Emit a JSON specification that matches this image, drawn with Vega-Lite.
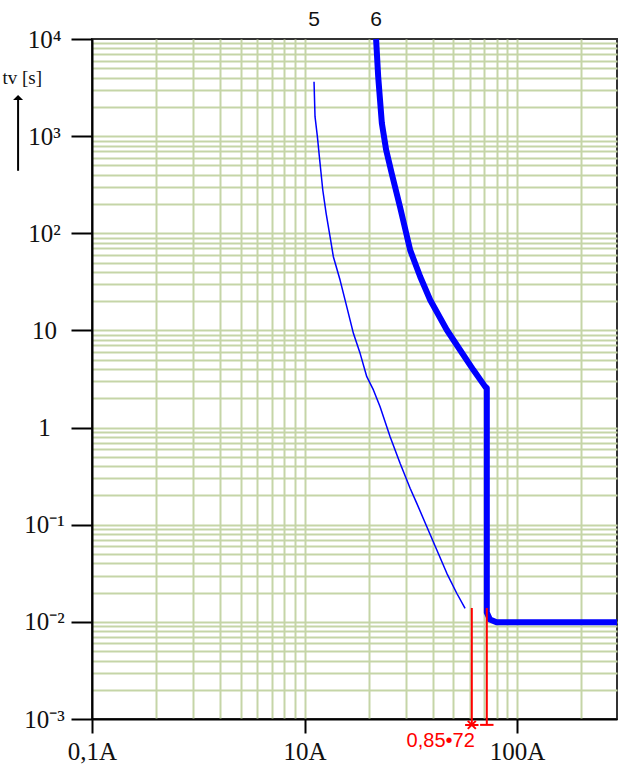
{
  "$schema": "https://vega.github.io/schema/vega-lite/v6.json",
  "width": 525,
  "height": 680,
  "autosize": {"type": "none"},
  "padding": {"left": 92, "top": 39, "right": 3, "bottom": 52},
  "background": "white",
  "config": {
    "view": {"stroke": "#333333", "strokeWidth": 2},
    "font": "Liberation Serif"
  },
  "datasets": {
    "curves": [
      {"series": "6", "i": 0, "current": 21.7, "time": 10000},
      {"series": "6", "i": 1, "current": 22.2, "time": 4100},
      {"series": "6", "i": 2, "current": 23.1, "time": 1355},
      {"series": "6", "i": 3, "current": 24.2, "time": 720},
      {"series": "6", "i": 4, "current": 25.7, "time": 414},
      {"series": "6", "i": 5, "current": 28.1, "time": 188},
      {"series": "6", "i": 6, "current": 31.4, "time": 67},
      {"series": "6", "i": 7, "current": 35.0, "time": 35.7},
      {"series": "6", "i": 8, "current": 39.0, "time": 20.6},
      {"series": "6", "i": 9, "current": 46.7, "time": 10.1},
      {"series": "6", "i": 10, "current": 53.9, "time": 6.29},
      {"series": "6", "i": 11, "current": 62.3, "time": 3.91},
      {"series": "6", "i": 12, "current": 70.7, "time": 2.64},
      {"series": "6", "i": 13, "current": 72, "time": 2.55},
      {"series": "6", "i": 14, "current": 72, "time": 0.0125},
      {"series": "6", "i": 15, "current": 74.5, "time": 0.0106},
      {"series": "6", "i": 16, "current": 80, "time": 0.0099},
      {"series": "6", "i": 17, "current": 295, "time": 0.0099},
      {"series": "5", "i": 0, "current": 11.08, "time": 3634},
      {"series": "5", "i": 1, "current": 11.2, "time": 1585},
      {"series": "5", "i": 2, "current": 11.49, "time": 987},
      {"series": "5", "i": 3, "current": 11.74, "time": 614},
      {"series": "5", "i": 4, "current": 12.18, "time": 279},
      {"series": "5", "i": 5, "current": 12.63, "time": 160.6},
      {"series": "5", "i": 6, "current": 13.18, "time": 92.2},
      {"series": "5", "i": 7, "current": 13.66, "time": 57.4},
      {"series": "5", "i": 8, "current": 14.69, "time": 33.0},
      {"series": "5", "i": 9, "current": 15.8, "time": 17.5},
      {"series": "5", "i": 10, "current": 16.97, "time": 9.34},
      {"series": "5", "i": 11, "current": 18.25, "time": 5.81},
      {"series": "5", "i": 12, "current": 19.62, "time": 3.34},
      {"series": "5", "i": 13, "current": 21.08, "time": 2.44},
      {"series": "5", "i": 14, "current": 22.66, "time": 1.64},
      {"series": "5", "i": 15, "current": 25.26, "time": 0.805},
      {"series": "5", "i": 16, "current": 28.14, "time": 0.4285},
      {"series": "5", "i": 17, "current": 31.37, "time": 0.237},
      {"series": "5", "i": 18, "current": 33.73, "time": 0.166},
      {"series": "5", "i": 19, "current": 37.6, "time": 0.0954},
      {"series": "5", "i": 20, "current": 41.9, "time": 0.0549},
      {"series": "5", "i": 21, "current": 46.7, "time": 0.0316},
      {"series": "5", "i": 22, "current": 52.0, "time": 0.0197},
      {"series": "5", "i": 23, "current": 56.9, "time": 0.0138}
    ],
    "curveLabels": [
      {"label": "5", "current": 11.08, "time": 10000},
      {"label": "6", "current": 21.7, "time": 10000}
    ],
    "markers": [
      {"current": 61.2, "top": 0.0139, "bottom": 0.00087, "kind": "star"},
      {"current": 72, "top": 0.0139, "bottom": 0.00087, "kind": "bar"}
    ],
    "markerText": [
      {"current": 61.2, "time": 0.00087, "text": "0,85•72"}
    ],
    "arrow": [
      {"current": 0.449, "from": 440, "to": 2500}
    ]
  },
  "layer": [
    {
      "data": {"name": "curves"},
      "mark": {"type": "line", "color": "#0000ff", "strokeCap": "butt", "strokeJoin": "round"},
      "encoding": {
        "x": {
          "field": "current", "type": "quantitative",
          "scale": {"type": "log", "domain": [1, 295], "nice": false},
          "axis": {
            "values": [1, 2, 3, 4, 5, 6, 7, 8, 9, 10, 20, 30, 40, 50, 60, 70, 80, 90, 100, 200],
            "title": null,
            "grid": true,
            "gridColor": "#c5d5a7",
            "gridWidth": 2,
            "gridOpacity": {"condition": {"test": "datum.value == 1", "value": 0}, "value": 1},
            "domainColor": "#000000",
            "domainWidth": 2,
            "tickColor": "#000000",
            "tickWidth": 2,
            "tickSize": 14,
            "tickOpacity": {"condition": {"test": "datum.value == 1 || datum.value == 10 || datum.value == 100", "value": 1}, "value": 0},
            "labelExpr": "datum.value == 1 ? '0,1A' : datum.value == 10 ? '10A' : datum.value == 100 ? '100A' : ''",
            "labelFont": "Liberation Serif",
            "labelFontSize": 25,
            "labelColor": "#111111",
            "labelPadding": 6,
            "labelOverlap": false,
            "labelFlush": false
          }
        },
        "y": {
          "field": "time", "type": "quantitative",
          "scale": {"type": "log", "domain": [0.001, 10000], "nice": false},
          "axis": {
            "values": [0.001, 0.002, 0.003, 0.004, 0.005, 0.006, 0.007, 0.008, 0.009,
                       0.01, 0.02, 0.03, 0.04, 0.05, 0.06, 0.07, 0.08, 0.09,
                       0.1, 0.2, 0.3, 0.4, 0.5, 0.6, 0.7, 0.8, 0.9,
                       1, 2, 3, 4, 5, 6, 7, 8, 9,
                       10, 20, 30, 40, 50, 60, 70, 80, 90,
                       100, 200, 300, 400, 500, 600, 700, 800, 900,
                       1000, 2000, 3000, 4000, 5000, 6000, 7000, 8000, 9000, 10000],
            "title": "tv [s]",
            "titleAngle": 0,
            "titleAlign": "left",
            "titleBaseline": "middle",
            "titleX": -90,
            "titleY": 38,
            "titleFont": "Liberation Serif",
            "titleFontSize": 19,
            "titleFontWeight": "normal",
            "titleColor": "#111111",
            "titleLimit": 200,
            "grid": true,
            "gridColor": "#c5d5a7",
            "gridWidth": 2,
            "gridOpacity": {"condition": {"test": "datum.value == 0.001 || datum.value == 10000", "value": 0}, "value": 1},
            "domainColor": "#000000",
            "domainWidth": 2,
            "tickColor": "#000000",
            "tickWidth": 2,
            "tickSize": 21,
            "tickOpacity": {"condition": {"test": "indexof([0.001, 0.01, 0.1, 1, 10, 100, 1000, 10000], datum.value) >= 0", "value": 1}, "value": 0},
            "labelExpr": "datum.value == 10000 ? '10⁴' : datum.value == 1000 ? '10³' : datum.value == 100 ? '10²' : datum.value == 10 ? '10' : datum.value == 1 ? '1' : datum.value == 0.1 ? '10⁻¹' : datum.value == 0.01 ? '10⁻²' : datum.value == 0.001 ? '10⁻³' : ''",
            "labelFont": "Liberation Serif",
            "labelFontSize": 25,
            "labelColor": "#111111",
            "labelAlign": "center",
            "labelBaseline": "middle",
            "labelPadding": 27,
            "labelOverlap": false,
            "labelFlush": false
          }
        },
        "detail": {"field": "series", "type": "nominal"},
        "order": {"field": "i", "type": "quantitative"},
        "strokeWidth": {
          "field": "series", "type": "nominal",
          "scale": {"domain": ["5", "6"], "range": [1.5, 6]},
          "legend": null
        }
      }
    },
    {
      "data": {"name": "curveLabels"},
      "mark": {"type": "text", "font": "Liberation Sans", "fontSize": 21, "color": "#111111", "baseline": "middle", "align": "center", "dy": -19},
      "encoding": {
        "x": {"field": "current", "type": "quantitative", "scale": {"type": "log", "domain": [1, 295], "nice": false}},
        "y": {"field": "time", "type": "quantitative", "scale": {"type": "log", "domain": [0.001, 10000], "nice": false}},
        "text": {"field": "label"}
      }
    },
    {
      "data": {"name": "markers"},
      "mark": {"type": "rule", "color": "#ff0000", "strokeWidth": 2},
      "encoding": {
        "x": {"field": "current", "type": "quantitative", "scale": {"type": "log", "domain": [1, 295], "nice": false}},
        "y": {"field": "top", "type": "quantitative", "scale": {"type": "log", "domain": [0.001, 10000], "nice": false}},
        "y2": {"field": "bottom"}
      }
    },
    {
      "data": {"name": "markers"},
      "mark": {"type": "point", "filled": false, "color": "#ff0000", "strokeWidth": 2, "opacity": 1},
      "encoding": {
        "x": {"field": "current", "type": "quantitative", "scale": {"type": "log", "domain": [1, 295], "nice": false}},
        "y": {"field": "bottom", "type": "quantitative", "scale": {"type": "log", "domain": [0.001, 10000], "nice": false}},
        "shape": {
          "field": "kind", "type": "nominal",
          "scale": {"domain": ["star", "bar"], "range": ["M-1,0L1,0M-0.6,-0.6L0.6,0.6M-0.6,0.6L0.6,-0.6", "M-1,0L1,0"]},
          "legend": null
        },
        "size": {"value": 180}
      }
    },
    {
      "data": {"name": "markerText"},
      "mark": {"type": "text", "font": "Liberation Sans", "fontSize": 20, "color": "#ff0000", "align": "right", "baseline": "middle", "dx": 3, "dy": 16},
      "encoding": {
        "x": {"field": "current", "type": "quantitative", "scale": {"type": "log", "domain": [1, 295], "nice": false}},
        "y": {"field": "time", "type": "quantitative", "scale": {"type": "log", "domain": [0.001, 10000], "nice": false}},
        "text": {"field": "text"}
      }
    },
    {
      "data": {"name": "arrow"},
      "mark": {"type": "rule", "color": "#000000", "strokeWidth": 2},
      "encoding": {
        "x": {"field": "current", "type": "quantitative", "scale": {"type": "log", "domain": [1, 295], "nice": false}},
        "y": {"field": "from", "type": "quantitative", "scale": {"type": "log", "domain": [0.001, 10000], "nice": false}},
        "y2": {"field": "to"}
      }
    },
    {
      "data": {"name": "arrow"},
      "mark": {"type": "point", "filled": true, "color": "#000000", "opacity": 1, "shape": "M0,-0.5L1,0.5L-1,0.5Z", "size": 100},
      "encoding": {
        "x": {"field": "current", "type": "quantitative", "scale": {"type": "log", "domain": [1, 295], "nice": false}},
        "y": {"field": "to", "type": "quantitative", "scale": {"type": "log", "domain": [0.001, 10000], "nice": false}}
      }
    }
  ]
}
